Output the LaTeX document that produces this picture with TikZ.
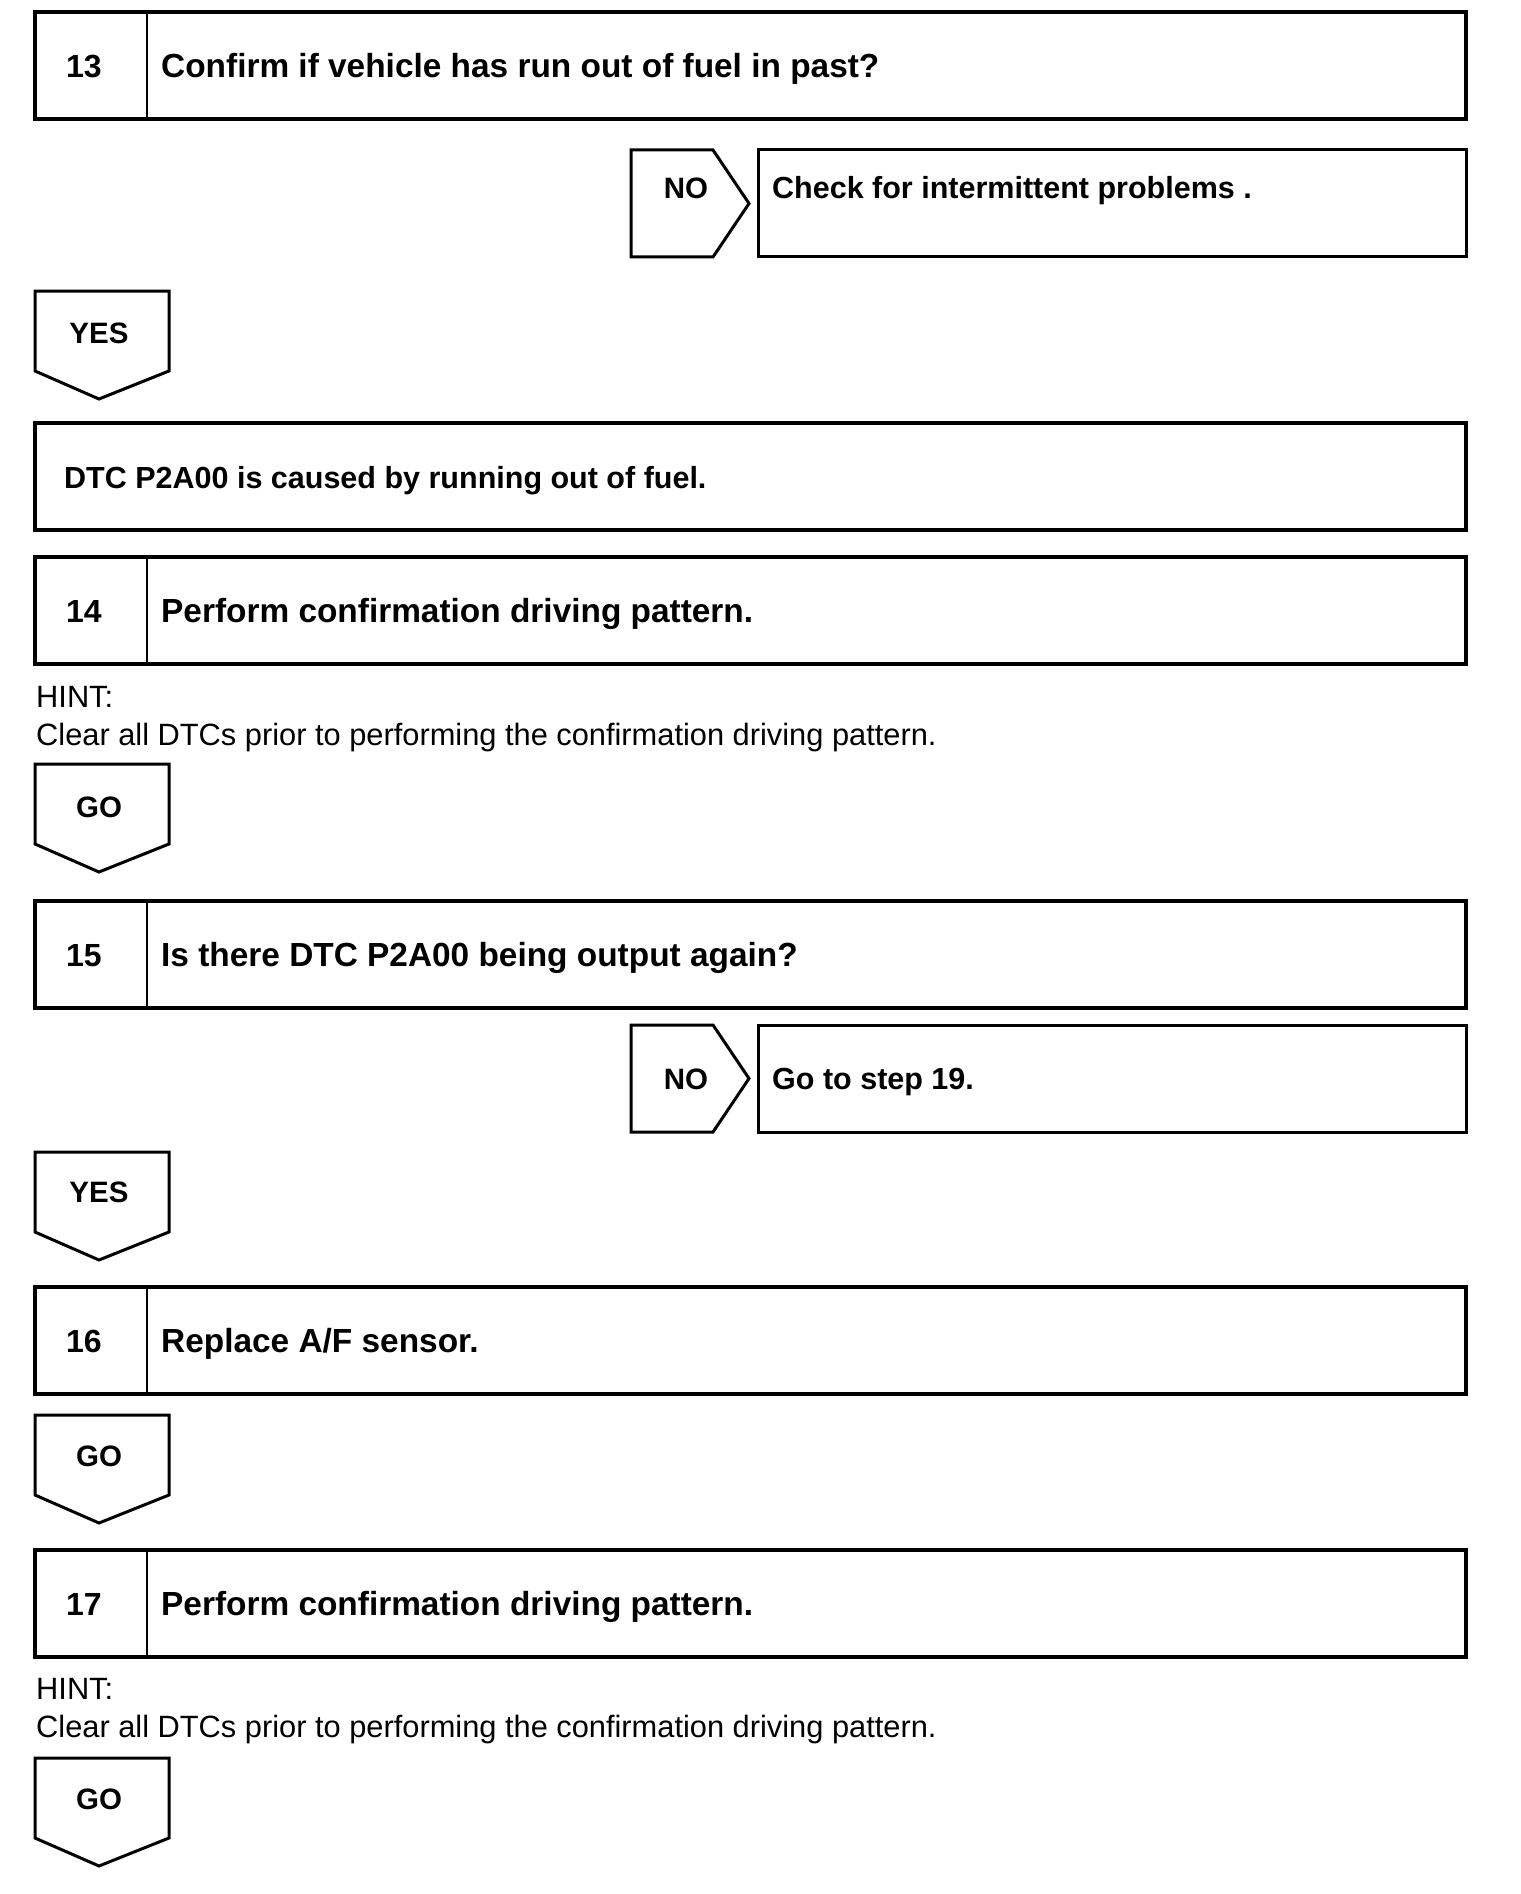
\documentclass[tikz,border=0pt]{standalone}
\usepackage{fontspec}
\setmainfont{Liberation Sans}
\begin{document}
\begin{tikzpicture}[x=1pt,y=-1pt,
  stepbox/.style={draw, line width=3.5pt, rectangle, inner sep=0pt, outer sep=0pt, anchor=north west, minimum width=1431pt, minimum height=107pt},
  nobox/.style={draw, line width=3pt, rectangle, inner sep=0pt, outer sep=0pt, anchor=north west, minimum width=708pt, minimum height=107pt},
  divider/.style={line width=2.4pt},
  tag/.style={draw, line width=3pt, line join=miter},
  steptext/.style={anchor=base west, inner sep=0pt, font=\fontsize{33.4}{40}\selectfont\bfseries},
  midtext/.style={anchor=base west, inner sep=0pt, font=\fontsize{30.5}{37}\selectfont\bfseries},
  numtext/.style={anchor=base, inner sep=0pt, font=\fontsize{32}{38}\selectfont\bfseries},
  lbltext/.style={anchor=base, inner sep=0pt, font=\fontsize{29.5}{35}\selectfont\bfseries},
  hinttext/.style={anchor=base west, inner sep=0pt, font=\fontsize{30.8}{36}\selectfont}
]
\useasboundingbox (0,0) rectangle (1520,1894);

% ---- Step 13
\node[stepbox] (b13) at (35,12) {};
\draw[divider] ([xshift=112pt]b13.north west) -- ([xshift=112pt]b13.south west);
\node[numtext] (n13) at (84,77.5) {13};
\node[steptext] (t13) at (161,77.5) {Confirm if vehicle has run out of fuel in past?};

% NO 1
\draw[tag] (631,150) coordinate (no1a) -- (713,150) -- (749,203.5) -- (713,257) -- (631,257) -- cycle;
\node[lbltext] (no1) at (686,199) {NO};
\node[nobox] (c1) at (758,150) {};
\node[midtext] (c1t) at (772,199) {Check for intermittent problems .};

% YES 1
\draw[tag] (35,291) coordinate (yes1a) -- (169,291) -- (169,371) -- (99,399) -- (35,371) -- cycle;
\node[lbltext] (yes1) at (99,343) {YES};

% DTC box
\node[stepbox] (dtc) at (35,423) {};
\node[midtext] (dtct) at (64,488) {DTC P2A00 is caused by running out of fuel.};

% ---- Step 14
\node[stepbox] (b14) at (35,557) {};
\draw[divider] ([xshift=112pt]b14.north west) -- ([xshift=112pt]b14.south west);
\node[numtext] (n14) at (84,622.5) {14};
\node[steptext] (t14) at (161,622.5) {Perform confirmation driving pattern.};
\node[hinttext] (h14a) at (36,707) {HINT:};
\node[hinttext] (h14b) at (36,745) {Clear all DTCs prior to performing the confirmation driving pattern.};

% GO 1
\draw[tag] (35,764) coordinate (go1a) -- (169,764) -- (169,844) -- (99,872) -- (35,844) -- cycle;
\node[lbltext] (go1) at (99,817) {GO};

% ---- Step 15
\node[stepbox] (b15) at (35,901) {};
\draw[divider] ([xshift=112pt]b15.north west) -- ([xshift=112pt]b15.south west);
\node[numtext] (n15) at (84,966.5) {15};
\node[steptext] (t15) at (161,966.5) {Is there DTC P2A00 being output again?};

% NO 2
\draw[tag] (631,1025) coordinate (no2a) -- (713,1025) -- (749,1078.5) -- (713,1132) -- (631,1132) -- cycle;
\node[lbltext] (no2) at (686,1089) {NO};
\node[nobox] (c2) at (758,1025) {};
\node[midtext] (c2t) at (772,1089) {Go to step 19.};

% YES 2
\draw[tag] (35,1152) coordinate (yes2a) -- (169,1152) -- (169,1232) -- (99,1260) -- (35,1232) -- cycle;
\node[lbltext] (yes2) at (99,1202) {YES};

% ---- Step 16
\node[stepbox] (b16) at (35,1287) {};
\draw[divider] ([xshift=112pt]b16.north west) -- ([xshift=112pt]b16.south west);
\node[numtext] (n16) at (84,1352.5) {16};
\node[steptext] (t16) at (161,1352.5) {Replace A/F sensor.};

% GO 2
\draw[tag] (35,1415) coordinate (go2a) -- (169,1415) -- (169,1495) -- (99,1523) -- (35,1495) -- cycle;
\node[lbltext] (go2) at (99,1466) {GO};

% ---- Step 17
\node[stepbox] (b17) at (35,1550) {};
\draw[divider] ([xshift=112pt]b17.north west) -- ([xshift=112pt]b17.south west);
\node[numtext] (n17) at (84,1615.5) {17};
\node[steptext] (t17) at (161,1615.5) {Perform confirmation driving pattern.};
\node[hinttext] (h17a) at (36,1699) {HINT:};
\node[hinttext] (h17b) at (36,1737) {Clear all DTCs prior to performing the confirmation driving pattern.};

% GO 3
\draw[tag] (35,1758) coordinate (go3a) -- (169,1758) -- (169,1838) -- (99,1866) -- (35,1838) -- cycle;
\node[lbltext] (go3) at (99,1809) {GO};
\end{tikzpicture}
\end{document}
